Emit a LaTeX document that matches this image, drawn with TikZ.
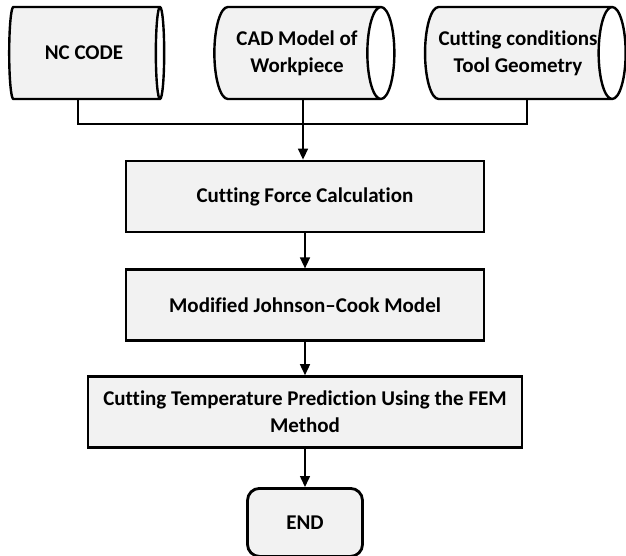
\documentclass[tikz,border=0pt]{standalone}
\usepackage{fontspec}
\setmainfont{Carlito}[Ligatures=NoCommon]
\usepackage{tikz}
\usetikzlibrary{arrows.meta, positioning, shapes.geometric}
\definecolor{boxGray}{RGB}{242, 242, 242}

\begin{document}
\begin{tikzpicture}[
    x=1pt, y=-1pt,
    font=\fontsize{21}{27}\selectfont\bfseries,
    store/.style={
      cylinder, draw=black, line width=2.4pt,
      cylinder uses custom fill, cylinder body fill=boxGray, cylinder end fill=white,
      shape aspect=0.6, minimum width=92pt, align=center, inner sep=0pt
    },
    box/.style={
      rectangle, draw=black, fill=boxGray, line width=2.8pt,
      minimum height=71pt, align=center
    },
    arrow/.style={-{Triangle[length=11pt, width=10pt]}, line width=1.5pt},
    link/.style={line width=1.5pt}
  ]
    \useasboundingbox (0,0) rectangle (626,556);

    % Input data
    \node[store, minimum height=155pt] (nccode) at (84,53) {NC CODE};
    \node[store, minimum height=180pt] (cadmodel) at (297,53) {CAD Model of\\Workpiece};
    \node[store, minimum height=198pt] (conditions) at (518,53) {Cutting conditions\\Tool Geometry};

    % Processing steps
    \node[box, minimum width=358pt] (force) at (305,196.5) {Cutting Force Calculation};
    \node[box, minimum width=358pt, below=35pt of force] (johnson) {Modified Johnson--Cook Model};
    \node[box, minimum width=434pt, below=33pt of johnson] (femtemp) {Cutting Temperature Prediction Using the FEM\\Method};
    \node[box, rounded corners=12pt, minimum width=115pt, minimum height=68pt, below=38pt of femtemp] (finish) {END};

    % Arrows
    \coordinate (merge) at (303,124);
    \draw[link] ([xshift=-6pt]nccode.south) |- (merge) -| ([xshift=9pt]conditions.south);
    \draw[arrow] (merge |- cadmodel.south) -- (merge |- force.north);
    \draw[arrow] (force) -- (johnson);
    \draw[arrow] (johnson) -- (femtemp);
    \draw[arrow] (femtemp) -- (finish);
\end{tikzpicture}
\end{document}
